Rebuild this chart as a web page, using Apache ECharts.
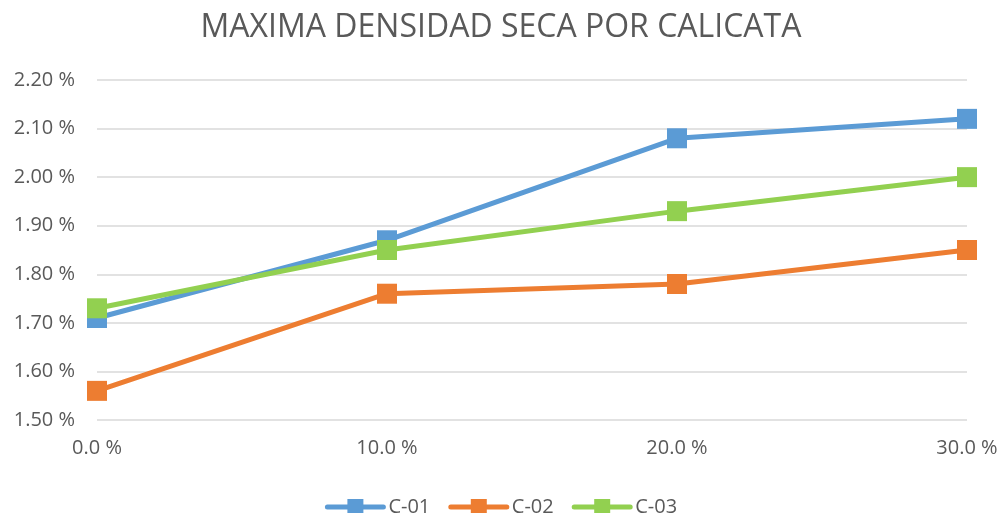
<!DOCTYPE html>
<html>
<head>
<meta charset="utf-8">
<script src="https://cdn.jsdelivr.net/npm/echarts@6/dist/echarts.min.js"></script>
<style>
  html, body { margin: 0; padding: 0; background: #fff; }
  #main { width: 1002px; height: 513px; }
</style>
</head>
<body>
<div id="main"></div>
<script>
// humedad (%) en el eje x
const xValues = [0, 10, 20, 30];
const c01 = [1.71, 1.87, 2.08, 2.12];
const c02 = [1.56, 1.76, 1.78, 1.85];
const c03 = [1.73, 1.85, 1.93, 2.00];
const seriesNames = ['C-01', 'C-02', 'C-03'];
const colors = ['#5B9BD5', '#ED7D31', '#92D050'];

function pairs(ys) {
  return xValues.map((x, i) => [x, ys[i]]);
}

const txt = '#595959';
const font = '"Open Sans", sans-serif';

let myChart = echarts.init(document.getElementById('main'));

let option = {
  animation: false,
  color: colors,
  title: {
    text: 'MAXIMA DENSIDAD SECA POR CALICATA',
    left: 'center',
    top: 7,
    textStyle: { color: txt, fontSize: 32, fontWeight: 'normal', fontFamily: font }
  },
  legend: {
    data: seriesNames,
    top: 492,
    left: 'center',
    itemWidth: 56,
    itemHeight: 20,
    itemGap: 18,
    lineStyle: { width: 5, cap: 'round' },
    textStyle: { color: txt, fontSize: 20, fontFamily: font }
  },
  grid: {
    left: 97,
    right: 35,
    top: 80,
    bottom: 93
  },
  xAxis: {
    type: 'value',
    min: 0,
    max: 30,
    interval: 10,
    axisLine: { show: false },
    axisTick: { show: false },
    splitLine: { show: false },
    axisLabel: {
      color: txt,
      fontSize: 20,
      fontFamily: font,
      margin: 18,
      formatter: v => v.toFixed(1) + ' %'
    }
  },
  yAxis: {
    type: 'value',
    min: 1.5,
    max: 2.2,
    interval: 0.1,
    axisLine: { show: false },
    axisTick: { show: false },
    splitLine: { lineStyle: { color: '#D9D9D9', width: 1.5 } },
    axisLabel: {
      color: txt,
      fontSize: 20,
      fontFamily: font,
      margin: 22,
      formatter: v => v.toFixed(2) + ' %'
    }
  },
  series: [c01, c02, c03].map((d, i) => ({
    name: seriesNames[i],
    type: 'line',
    data: pairs(d),
    symbol: 'rect',
    symbolSize: 20,
    lineStyle: { width: 5, color: colors[i] },
    itemStyle: { color: colors[i] }
  }))
};

myChart.setOption(option);
</script>
</body>
</html>
